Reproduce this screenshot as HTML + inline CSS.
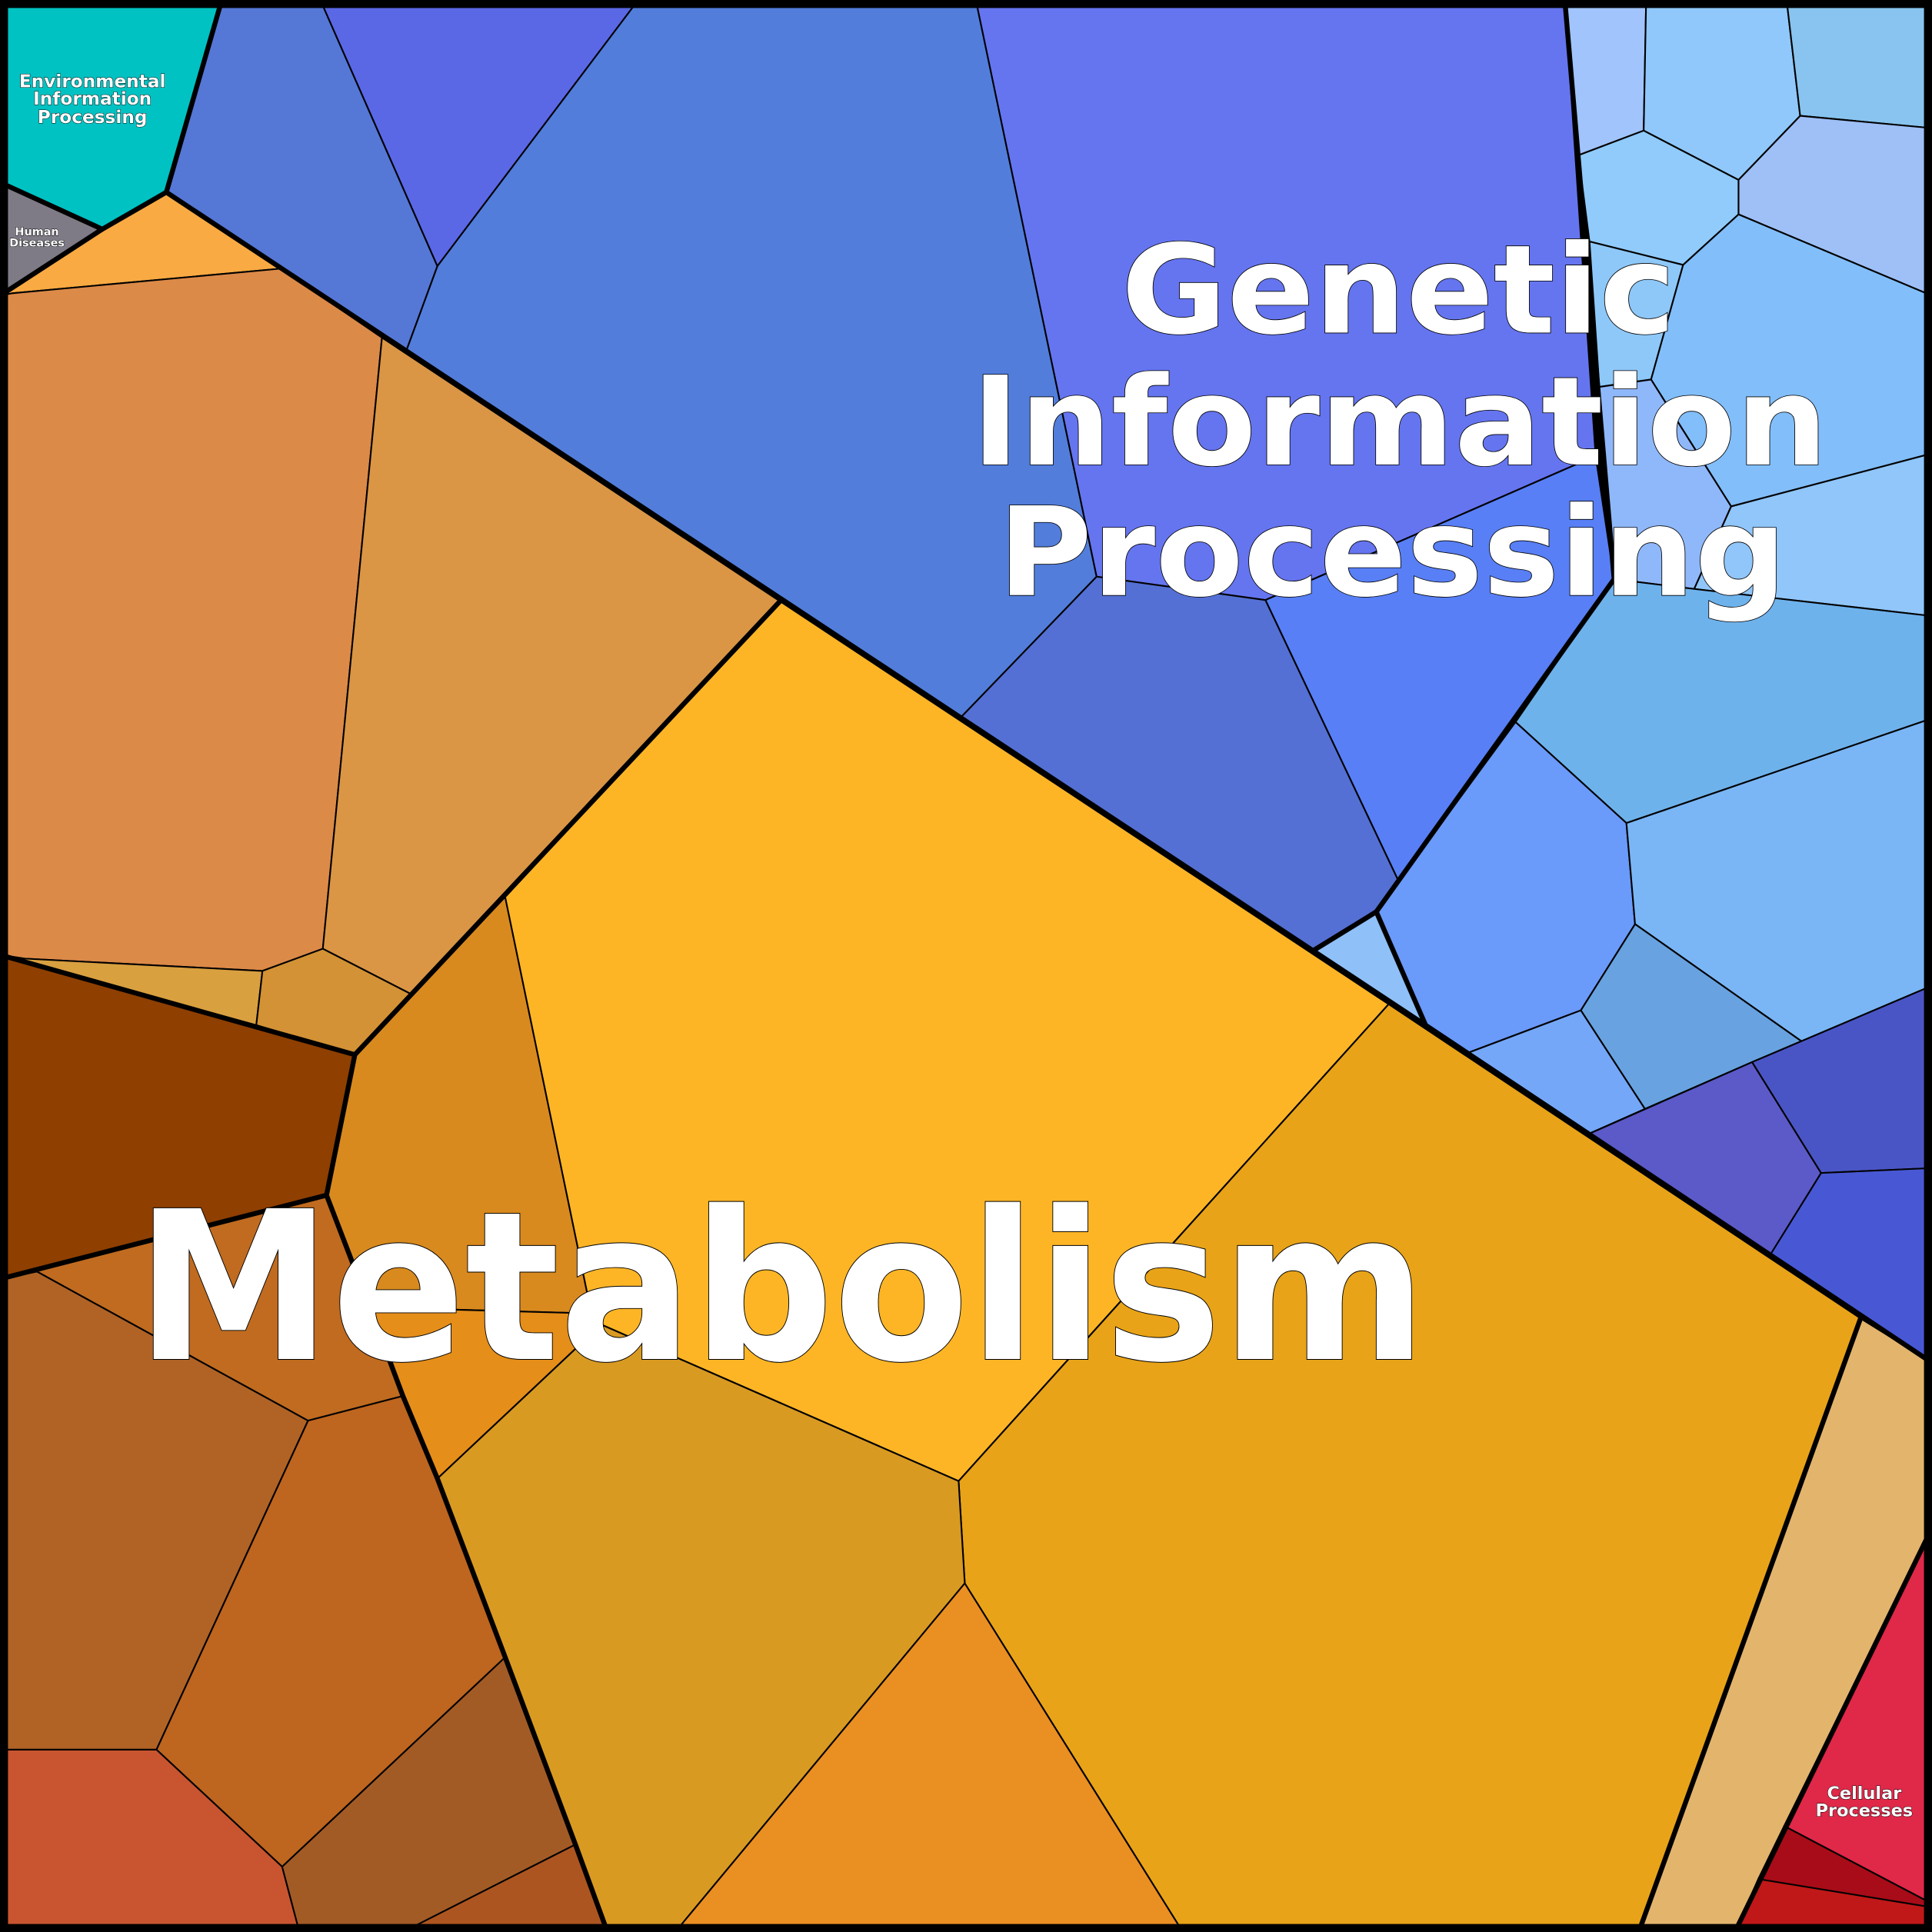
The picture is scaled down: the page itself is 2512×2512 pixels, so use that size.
<!DOCTYPE html>
<html><head><meta charset="utf-8">
<style>
html,body{margin:0;padding:0;background:#000;}
svg{display:block;}
text{font-family:"DejaVu Sans","Liberation Sans",sans-serif;font-weight:bold;fill:#fff;stroke:#000;paint-order:stroke;text-anchor:middle;}
</style></head><body>
<svg width="2512" height="2512" viewBox="0 0 1568 1568" xmlns="http://www.w3.org/2000/svg">
<g stroke="#000" stroke-width="1.3" stroke-linejoin="round">
<polygon fill="#00c2c2" points="0,0 180,0 135,156 83,186 0,148"/>
<polygon fill="#7f7b86" points="0,148 83,186 0,240"/>
<polygon fill="#f9aa42" points="0,240 83,186 135,156 228,218 10,238"/>
<polygon fill="#dc8a48" points="10,238 228,218 310,274 262,770 213,788 20,778 0,775 0,240"/>
<polygon fill="#da9645" points="310,274 633,488 410,728 334,807 262,770"/>
<polygon fill="#d9a040" points="20,778 213,788 208,832 0,775"/>
<polygon fill="#d39235" points="213,788 262,770 334,807 288,856 208,832"/>
<polygon fill="#8f3f00" points="0,775 288,856 265,970 0,1038"/>
<polygon fill="#d98a1e" points="288,856 334,807 410,728 480,1066 300,1061 265,970"/>
<polygon fill="#e58e1a" points="300,1061 480,1066 488,1075 355,1200 327,1133"/>
<polygon fill="#fdb526" points="410,728 633,488 1127,815 778,1202 488,1075 480,1066"/>
<polygon fill="#e8a318" points="1127,815 1510,1070 1330,1568 960,1568 783,1285 778,1202"/>
<polygon fill="#e3b46c" points="1510,1070 1568,1106 1568,1240 1408,1568 1330,1568"/>
<polygon fill="#d99a22" points="488,1075 778,1202 783,1285 548,1568 493,1568 467,1497 410,1345 355,1200"/>
<polygon fill="#ea8f22" points="548,1568 783,1285 960,1568"/>
<polygon fill="#c06b20" points="0,1038 265,970 300,1061 327,1133 250,1153 30,1032"/>
<polygon fill="#b06325" points="0,1038 30,1032 250,1153 127,1420 0,1420"/>
<polygon fill="#be651f" points="250,1153 327,1133 355,1200 410,1345 229,1515 127,1420"/>
<polygon fill="#c85530" points="0,1420 127,1420 229,1515 243,1568 0,1568"/>
<polygon fill="#a35b26" points="229,1515 410,1345 467,1497 327,1568 243,1568"/>
<polygon fill="#ad5520" points="327,1568 467,1497 493,1568"/>
<polygon fill="#5577d6" points="180,0 260,0 355,216 330,284 135,156"/>
<polygon fill="#5a68e6" points="260,0 518,0 355,216"/>
<polygon fill="#527ddb" points="518,0 792,0 890,468 780,582 330,284 355,216"/>
<polygon fill="#6575f0" points="792,0 1270,0 1295,370 1027,487 890,468"/>
<polygon fill="#587ff5" points="1027,487 1295,370 1310,470 1135,715"/>
<polygon fill="#5470d4" points="780,582 890,468 1027,487 1135,715 1117,740 1065,772"/>
<polygon fill="#8fc0f8" points="1065,772 1117,740 1157,832"/>
<polygon fill="#a0c4fb" points="1270,0 1336,0 1334,106 1281,126"/>
<polygon fill="#90c8fb" points="1336,0 1450,0 1461,94 1411,146 1334,106"/>
<polygon fill="#88c4ef" points="1450,0 1568,0 1568,104 1461,94"/>
<polygon fill="#90cbfb" points="1281,126 1334,106 1411,146 1411,174 1366,215 1290,196"/>
<polygon fill="#9ec0f7" points="1411,146 1461,94 1568,104 1568,240 1411,174"/>
<polygon fill="#8ec8f9" points="1290,196 1366,215 1340,308 1298,314"/>
<polygon fill="#82befa" points="1366,215 1411,174 1568,240 1568,368 1405,411 1340,308"/>
<polygon fill="#8fb8fa" points="1298,314 1340,308 1405,411 1375,478 1310,470"/>
<polygon fill="#90c6fa" points="1405,411 1568,368 1568,500 1375,478"/>
<polygon fill="#6eb2ec" points="1310,470 1375,478 1568,500 1568,583 1320,668 1230,586"/>
<polygon fill="#6a9afa" points="1230,586 1320,668 1327,750 1283,820 1190,855 1157,832 1117,740"/>
<polygon fill="#7ab6f5" points="1320,668 1568,583 1568,800 1462,845 1327,750"/>
<polygon fill="#68a2e0" points="1283,820 1327,750 1462,845 1422,862 1335,900"/>
<polygon fill="#75a7f8" points="1190,855 1283,820 1335,900 1290,920"/>
<polygon fill="#5b5ac8" points="1290,920 1422,862 1478,952 1437,1018"/>
<polygon fill="#4a55c5" points="1422,862 1568,800 1568,948 1478,952"/>
<polygon fill="#4858d4" points="1478,952 1568,948 1568,1106 1437,1018"/>
<polygon fill="#e02848" points="1568,1240 1568,1545 1448,1482"/>
<polygon fill="#a80c18" points="1448,1482 1568,1545 1568,1550 1427,1525"/>
<polygon fill="#c01818" points="1427,1525 1568,1548 1568,1568 1408,1568"/>
</g>
<g fill="none" stroke="#000" stroke-width="4" stroke-linejoin="round">
<polyline points="180,0 135,156 83,186 0,148"/>
<polyline points="83,186 0,240"/>
<polyline points="135,156 1157,832 1568,1106"/>
<polyline points="1270,0 1310,470 1117,740 1157,832"/>
<polyline points="1117,740 1065,772"/>
<polyline points="0,775 288,856 265,970 0,1038"/>
<polyline points="633,488 288,856"/>
<polyline points="265,970 300,1061 327,1133 355,1200 410,1345 467,1497 493,1568"/>
<polyline points="1510,1070 1330,1568"/>
<polyline points="1568,1240 1408,1568"/>
</g>
<rect x="3" y="3" width="1562" height="1562" fill="none" stroke="#000" stroke-width="7"/>
<g stroke-width="1">
<text x="1135" y="270" font-size="100" textLength="450" lengthAdjust="spacingAndGlyphs">Genetic</text>
<text x="1136" y="377" font-size="100" textLength="695" lengthAdjust="spacingAndGlyphs">Information</text>
<text x="1130" y="483" font-size="100" textLength="640" lengthAdjust="spacingAndGlyphs">Processing</text>
<text x="634" y="1103" font-size="168" textLength="1048" lengthAdjust="spacingAndGlyphs" stroke-width="1.2">Metabolism</text>
</g>
<g stroke-width="0.6">
<text x="75" y="71" font-size="14.5">Environmental</text>
<text x="75" y="85" font-size="14.5">Information</text>
<text x="75" y="100" font-size="14.5">Processing</text>
<text x="30" y="191" font-size="9">Human</text>
<text x="30" y="200" font-size="9">Diseases</text>
<text x="1513" y="1460" font-size="14">Cellular</text>
<text x="1513" y="1474" font-size="14">Processes</text>
</g>
</svg>
</body></html>
